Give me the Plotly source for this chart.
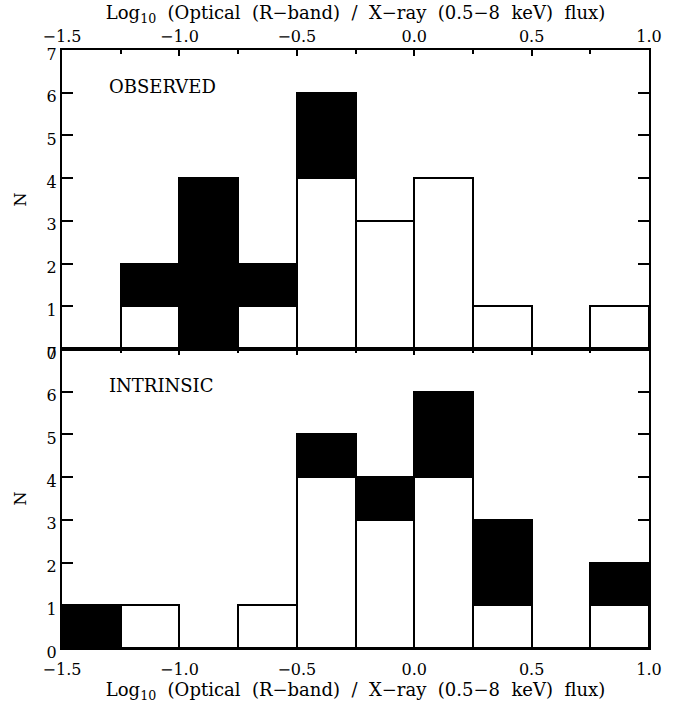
import plotly.graph_objects as go
from plotly.subplots import make_subplots

bin_left = [-1.5, -1.25, -1.0, -0.75, -0.5, -0.25, 0.0, 0.25, 0.5, 0.75]
bin_width = 0.25

obs_total = [0, 2, 4, 2, 6, 3, 4, 1, 0, 1]
obs_white = [0, 1, 0, 1, 4, 3, 4, 1, 0, 1]

int_total = [1, 1, 0, 1, 5, 4, 6, 3, 0, 2]
int_white = [0, 1, 0, 1, 4, 3, 4, 1, 0, 1]

xticks = [-1.5, -1.0, -0.5, 0.0, 0.5, 1.0]
xticklabels = ["\u22121.5", "\u22121.0", "\u22120.5", "0.0", "0.5", "1.0"]
yticks = [0, 1, 2, 3, 4, 5, 6, 7]

G = "\u00a0 "
xtitle = ("Log<sub>10</sub>" + G + "(Optical" + G + "(R\u2212band)" + G + "/" + G +
          "X\u2212ray" + G + "(0.5\u22128" + G + "keV)" + G + "flux)")
FONT = "DejaVu Serif"

fig = make_subplots(rows=2, cols=1, vertical_spacing=0)

centers = [b + bin_width / 2 for b in bin_left]

def add_panel(total, white, row):
    black = [t - w for t, w in zip(total, white)]
    fig.add_trace(go.Bar(x=centers, y=white, width=bin_width,
                         marker=dict(color="white", line=dict(color="black", width=2)),
                         showlegend=False), row=row, col=1)
    fig.add_trace(go.Bar(x=centers, y=black, base=white, width=bin_width,
                         marker=dict(color="black", line=dict(color="black", width=2)),
                         showlegend=False), row=row, col=1)

add_panel(obs_total, obs_white, 1)
add_panel(int_total, int_white, 2)

common_x = dict(range=[-1.5, 1.0], tickvals=xticks, ticktext=xticklabels,
                ticks="inside", ticklen=6, tickwidth=2, tickcolor="black",
                showline=True, linewidth=2, linecolor="black", mirror="allticks",
                showgrid=False, zeroline=False,
                minor=dict(tickvals=[-1.25, -0.75, -0.25, 0.25, 0.75], ticks="inside",
                           ticklen=4, tickwidth=1.5, tickcolor="black", showgrid=False),
                tickfont=dict(family=FONT, size=16, color="black"),
                title=dict(text=xtitle, font=dict(family=FONT, size=18, color="black"), standoff=2))
common_y = dict(range=[0, 7], tickvals=yticks, ticks="inside", ticklen=11, tickwidth=2,
                tickcolor="black", showline=True, linewidth=2, linecolor="black",
                mirror="allticks", showgrid=False, zeroline=False, ticklabelshift=4,
                tickfont=dict(family=FONT, size=16, color="black"),
                title=dict(text="N", font=dict(family=FONT, size=16, color="black"), standoff=16))

fig.update_xaxes(**common_x)
fig.update_xaxes(side="top", row=1, col=1)
fig.update_xaxes(ticklabelstandoff=6, title_standoff=0, row=2, col=1)
fig.update_yaxes(**common_y)
fig.update_yaxes(domain=[0.5, 1.0], row=1, col=1)
fig.update_yaxes(domain=[0.0, 0.5], row=2, col=1)

fig.add_annotation(text="OBSERVED", x=-1.31, y=6.15, xref="x", yref="y",
                   xanchor="left", yanchor="middle", showarrow=False,
                   font=dict(family=FONT, size=18, color="black"))
fig.add_annotation(text="INTRINSIC", x=-1.31, y=6.15, xref="x2", yref="y2",
                   xanchor="left", yanchor="middle", showarrow=False,
                   font=dict(family=FONT, size=18, color="black"))

fig.update_layout(width=679, height=704, barmode="overlay", bargap=0,
                  margin=dict(l=62, r=30, t=49, b=52),
                  plot_bgcolor="white", paper_bgcolor="white")

fig.write_html("out.html")
